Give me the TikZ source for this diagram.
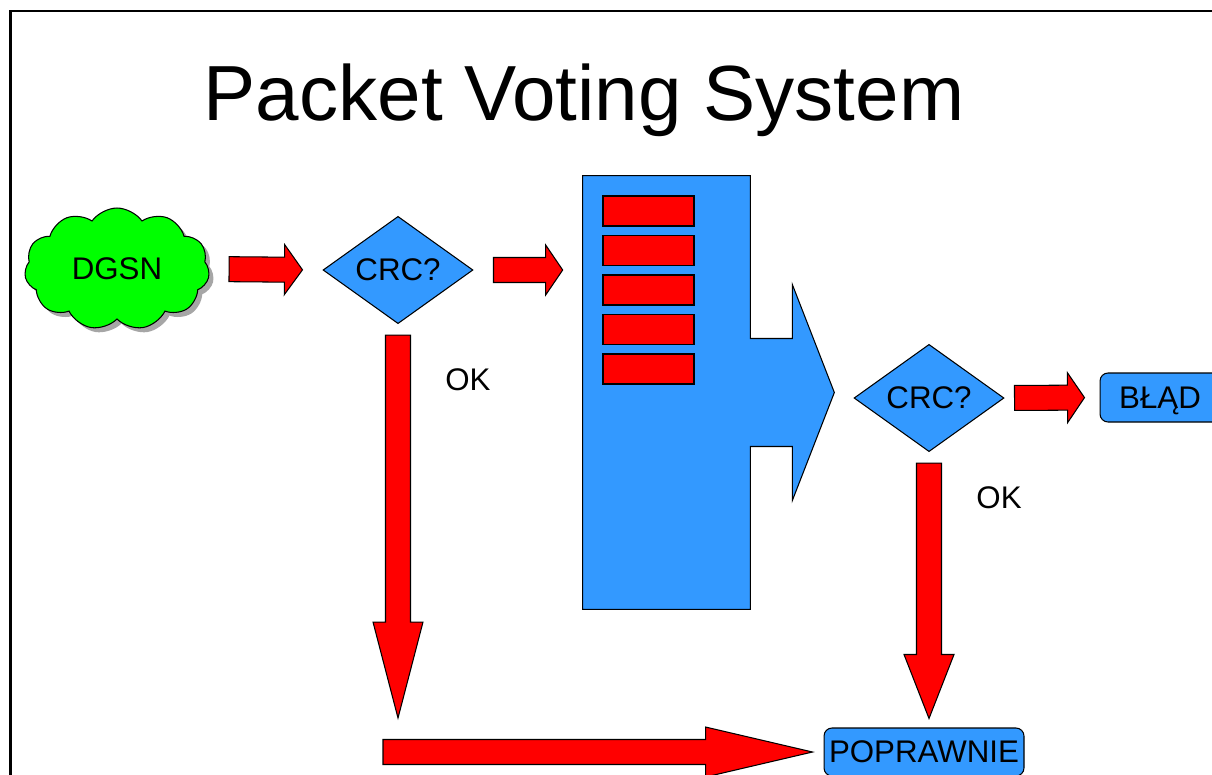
\documentclass[tikz,border=0pt]{standalone}
\usepackage{fontspec}
\setmainfont{Liberation Sans}
\usetikzlibrary{positioning,calc,shapes.geometric,shapes.symbols,shadows}
\definecolor{boxblue}{RGB}{51,153,255}
\definecolor{arrowred}{RGB}{255,0,0}
\definecolor{cloudgreen}{RGB}{0,255,0}
% fat block arrow: #1 head length, #2 from, #3 to, #4 gap at start, #5 gap at end
\newcommand{\fatarrow}[5]{%
  \coordinate (fa-s) at ($(#2)!#4!(#3)$);
  \coordinate (fa-e) at ($(#3)!#5!(#2)$);
  \coordinate (fa-h) at ($(fa-e)!#1!(fa-s)$);
  \draw[fatline] ($(fa-s)!0.25cm!90:(fa-e)$) -- ($(fa-h)!0.25cm!90:(fa-e)$)
    -- ($(fa-h)!0.5cm!90:(fa-e)$) -- (fa-e) -- ($(fa-h)!0.5cm!-90:(fa-e)$)
    -- ($(fa-h)!0.25cm!-90:(fa-e)$) -- ($(fa-s)!0.25cm!-90:(fa-e)$) -- cycle;
}

\begin{document}
\begin{tikzpicture}[x=0.02cm,y=-0.02cm,font=\fontsize{17.8}{20}\selectfont,
  fatline/.style={draw=black,line width=0.6pt,fill=arrowred,line join=miter},
  crcbox/.style={diamond,draw,line width=0.6pt,fill=boxblue,minimum width=3cm,minimum height=2.14cm,inner sep=0pt},
  endbox/.style={draw,line width=0.6pt,fill=boxblue,rounded corners=0.16cm,inner sep=0pt,text depth=0pt},
  slot/.style={draw,line width=0.6pt,fill=arrowred,minimum width=1.82cm,minimum height=0.6cm,inner sep=0pt}]
\useasboundingbox (0,0) rectangle (1212,774);
\clip (0,0) rectangle (1212,774);

% frame and title
\draw[line width=1.3pt] (10.5,800) -- (10.5,11) -- (1250,11);
\node[font=\fontsize{44.5}{50}\selectfont,anchor=base] (title) at (584,120) {Packet Voting System};

% source and first check
\node[cloud,cloud puffs=11,cloud puff arc=110,aspect=1.5,draw,line width=0.6pt,fill=cloudgreen,
  minimum width=3.7cm,minimum height=2.44cm,inner sep=0pt,
  drop shadow={shadow xshift=0.09cm,shadow yshift=-0.09cm,fill=gray!70,opacity=1}] (dgsn) at (117,269) {DGSN};
\node[crcbox] (crc1) at (398,270) {CRC?};

% packet store
\node[minimum width=3.34cm,minimum height=8.66cm,inner sep=0pt] (server) at (666.5,392.5) {};
\draw[line width=0.6pt,fill=boxblue] (server.north west) -- (server.north east)
  -- ($(server.east)+(0,-54)$) -- ($(server.east)+(42,-54)$) -- ($(server.east)+(42,-108)$)
  -- ($(server.east)+(84,0)$) -- ($(server.east)+(42,108)$) -- ($(server.east)+(42,54)$)
  -- ($(server.east)+(0,54)$) -- (server.south east) -- (server.south west) -- cycle;
\foreach \i in {0,...,4}
  \node[slot] (slot\i) at (648.5,{211+39.5*\i}) {};

% second check and results
\node[crcbox] (crc2) at (929,398) {CRC?};
\node[endbox,minimum width=2.4cm,minimum height=0.98cm] (blad) at (1160,397.5) {BŁĄD};
\node[endbox,minimum width=4cm,minimum height=0.96cm] (poprawnie) at (924,752) {POPRAWNIE};

\node (ok1) at (468,380) {OK};
\node (ok2) at (999,498) {OK};

\coordinate (okturn) at (398,718);
\coordinate (okstart) at (383,752);

\fatarrow{0.36cm}{dgsn.east}{crc1.west}{0.4cm}{0.4cm}
\fatarrow{0.34cm}{crc1.east}{crc1.east -| server.west}{0.4cm}{0.4cm}
\fatarrow{0.34cm}{crc2.east}{blad.west}{0.2cm}{0.3cm}
\fatarrow{1.92cm}{crc1.south}{okturn}{0.22cm}{0cm}
\fatarrow{1.28cm}{crc2.south}{crc2.south |- poprawnie.north}{0.22cm}{0.18cm}
\fatarrow{2.14cm}{okstart}{poprawnie.west}{0cm}{0.22cm}
\end{tikzpicture}
\end{document}
